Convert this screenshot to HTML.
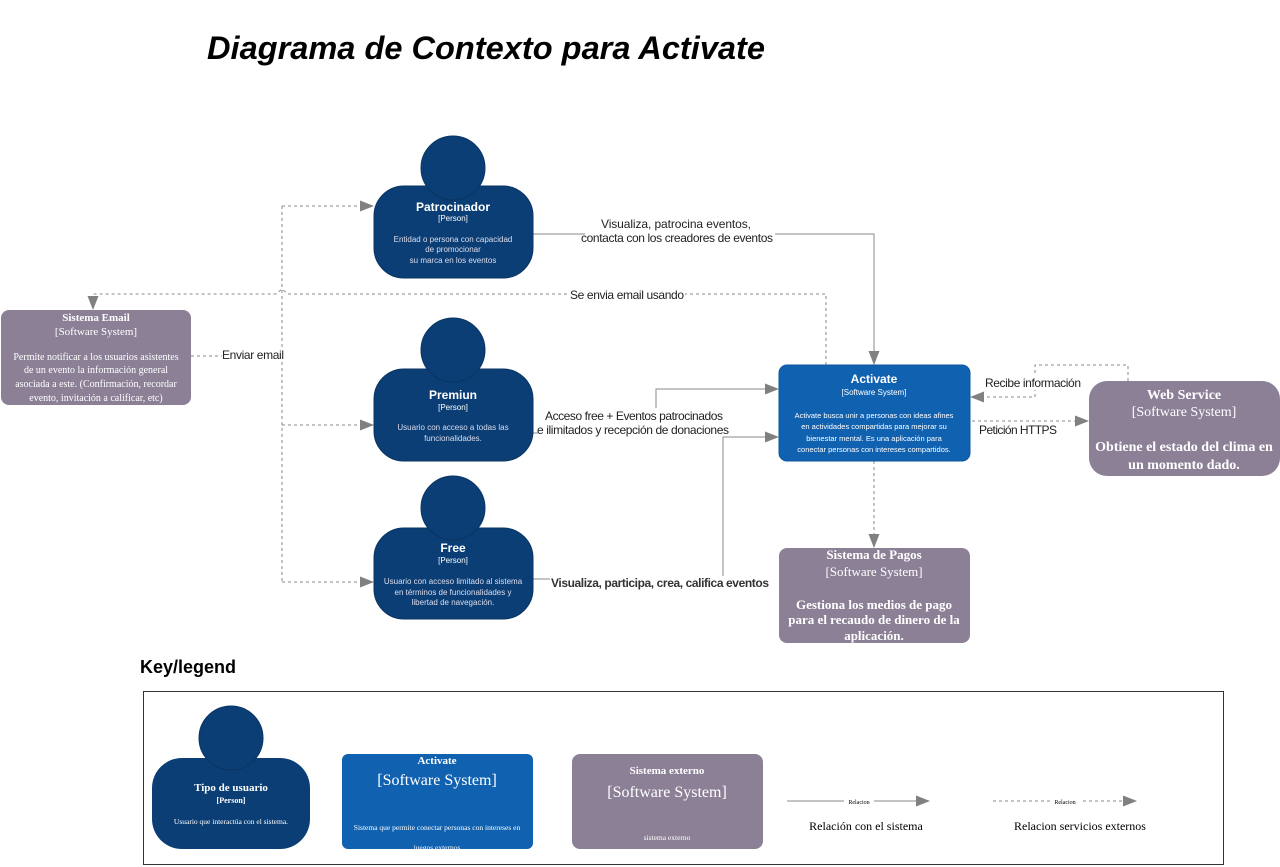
<!DOCTYPE html>
<html><head><meta charset="utf-8"><style>
body{margin:0;background:#fff;width:1280px;height:867px;overflow:hidden}
svg{display:block}
.s{font-family:"Liberation Sans",sans-serif}
.r{font-family:"Liberation Serif",serif}
</style></head><body>
<svg width="1280" height="867" viewBox="0 0 1280 867" xmlns="http://www.w3.org/2000/svg">
<defs>
<marker id="a" markerWidth="14" markerHeight="12" refX="13" refY="6" orient="auto" markerUnits="userSpaceOnUse"><path d="M0,0.5 L14,6 L0,11.5z" fill="#808080"/></marker>
</defs>
<text x="207" y="59" class="s" font-size="32" font-weight="bold" font-style="italic" fill="#000" textLength="558" lengthAdjust="spacingAndGlyphs">Diagrama de Contexto para Activate</text>

<!-- connectors -->
<g fill="none" stroke="#8a8a8a" stroke-width="1">
<path d="M533,234 H874 V364" marker-end="url(#a)"/>
<path d="M533,433 H656 V389 H778" marker-end="url(#a)"/>
<path d="M533,579 H723 V437 H778" marker-end="url(#a)"/>
</g>
<g fill="none" stroke="#8a8a8a" stroke-width="1" stroke-dasharray="3,3">
<path d="M826,365 V294 H288 L282,289 L276,294 H93 V309" marker-end="url(#a)"/>
<path d="M191,356 H282"/>
<path d="M282,206 V582"/>
<path d="M282,206 H373" marker-end="url(#a)"/>
<path d="M282,425 H373" marker-end="url(#a)"/>
<path d="M282,582 H373" marker-end="url(#a)"/>
<path d="M1128,381 V365 H1035 V397 H971" marker-end="url(#a)"/>
<path d="M972,421 H1088" marker-end="url(#a)"/>
<path d="M874,461 V547" marker-end="url(#a)"/>
</g>
<!-- connector labels -->
<g class="s" font-size="12" fill="#222">
<rect x="585" y="216" width="190" height="28" fill="#fff"/>
<text x="676" y="228" text-anchor="middle" textLength="150">Visualiza, patrocina eventos,</text>
<text x="677" y="242" text-anchor="middle" textLength="192">contacta con los creadores de eventos</text>
<rect x="570" y="288" width="115" height="14" fill="#fff"/>
<text x="627" y="299" text-anchor="middle" textLength="114">Se envia email usando</text>
<rect x="222" y="348" width="62" height="14" fill="#fff"/>
<text x="222" y="359" textLength="62">Enviar email</text>
<rect x="538" y="408" width="192" height="28" fill="#fff"/>
<text x="634" y="420" text-anchor="middle" textLength="178">Acceso free + Eventos patrocinados</text>
<text x="633" y="434" text-anchor="middle" textLength="192">e ilimitados y recepción de donaciones</text>
<rect x="550" y="576" width="220" height="14" fill="#fff"/>
<text x="660" y="587" text-anchor="middle" font-weight="bold" fill="#333" textLength="218">Visualiza, participa, crea, califica eventos</text>
<rect x="984" y="376" width="98" height="14" fill="#fff"/>
<text x="985" y="387" textLength="96">Recibe información</text>
<text x="979" y="434" textLength="78">Petición HTTPS</text>
</g>

<!-- persons -->
<g fill="#0b3e74" stroke="#0a3463" stroke-width="1">
<rect x="374" y="186" width="159" height="92" rx="30"/><circle cx="453" cy="168" r="32"/>
<rect x="374" y="369" width="159" height="92" rx="30"/><circle cx="453" cy="350" r="32"/>
<rect x="374" y="528" width="159" height="91" rx="30"/><circle cx="453" cy="508" r="32"/>
</g>
<g class="s" fill="#fff" text-anchor="middle">
<text x="453" y="211" font-size="12" font-weight="bold">Patrocinador</text>
<text x="453" y="221" font-size="8">[Person]</text>
<text x="453" y="242" font-size="8" fill="#dde">Entidad o persona con capacidad</text>
<text x="453" y="252" font-size="8" fill="#dde">de promocionar</text>
<text x="453" y="263" font-size="8" fill="#dde">su marca en los eventos</text>
<text x="453" y="399" font-size="12" font-weight="bold">Premiun</text>
<text x="453" y="410" font-size="8">[Person]</text>
<text x="453" y="430" font-size="8" fill="#dde">Usuario con acceso a todas las</text>
<text x="453" y="441" font-size="8" fill="#dde">funcionalidades.</text>
<text x="453" y="552" font-size="12" font-weight="bold">Free</text>
<text x="453" y="563" font-size="8">[Person]</text>
<text x="453" y="584" font-size="8" fill="#dde">Usuario con acceso limitado al sistema</text>
<text x="453" y="595" font-size="8" fill="#dde">en términos de funcionalidades y</text>
<text x="453" y="605" font-size="8" fill="#dde">libertad de navegación.</text>
</g>

<!-- systems -->
<rect x="1" y="310" width="190" height="95" rx="8" fill="#8b8096"/>
<g class="r" fill="#fff" text-anchor="middle">
<text x="96" y="321" font-size="11" font-weight="bold">Sistema Email</text>
<text x="96" y="335" font-size="11">[Software System]</text>
<text x="96" y="360" font-size="10">Permite notificar a los usuarios asistentes</text>
<text x="96" y="373" font-size="10">de un evento la información general</text>
<text x="96" y="387" font-size="10">asociada a este. (Confirmación, recordar</text>
<text x="96" y="401" font-size="10">evento, invitación a calificar, etc)</text>
</g>
<rect x="779" y="365" width="191" height="96" rx="8" fill="#1061b0" stroke="#0e57a0"/>
<g class="s" fill="#fff" text-anchor="middle">
<text x="874" y="383" font-size="12" font-weight="bold">Activate</text>
<text x="874" y="395" font-size="8">[Software System]</text>
<text x="874" y="418" font-size="7.5">Activate busca unir a personas con ideas afines</text>
<text x="874" y="429" font-size="7.5">en actividades compartidas para mejorar su</text>
<text x="874" y="441" font-size="7.5">bienestar mental. Es una aplicación para</text>
<text x="874" y="452" font-size="7.5">conectar personas con intereses compartidos.</text>
</g>
<rect x="1089" y="381" width="191" height="95" rx="18" fill="#8b8096"/>
<g class="r" fill="#fff" text-anchor="middle">
<text x="1184" y="399" font-size="14" font-weight="bold">Web Service</text>
<text x="1184" y="416" font-size="14">[Software System]</text>
<text x="1184" y="451" font-size="14" font-weight="bold">Obtiene el estado del clima en</text>
<text x="1184" y="469" font-size="14" font-weight="bold">un momento dado.</text>
</g>
<rect x="779" y="548" width="191" height="95" rx="8" fill="#8b8096"/>
<g class="r" fill="#fff" text-anchor="middle">
<text x="874" y="559" font-size="13" font-weight="bold">Sistema de Pagos</text>
<text x="874" y="576" font-size="13">[Software System]</text>
<text x="874" y="609" font-size="13" font-weight="bold">Gestiona los medios de pago</text>
<text x="874" y="624" font-size="13" font-weight="bold">para el recaudo de dinero de la</text>
<text x="874" y="640" font-size="13" font-weight="bold">aplicación.</text>
</g>

<!-- legend -->
<text x="140" y="673" class="s" font-size="18" font-weight="bold" fill="#000">Key/legend</text>
<rect x="143.5" y="691.5" width="1080" height="173" fill="none" stroke="#333" stroke-width="1"/>
<rect x="152" y="758" width="158" height="91" rx="30" fill="#0b3e74"/>
<circle cx="231" cy="738" r="32" fill="#0b3e74" stroke="#0a3463"/>
<g class="r" fill="#fff" text-anchor="middle">
<text x="231" y="791" font-size="11" font-weight="bold">Tipo de usuario</text>
<text x="231" y="803" font-size="8" font-weight="bold">[Person]</text>
<text x="231" y="824" font-size="7.5">Usuario que interactúa con el sistema.</text>
</g>
<rect x="342" y="754" width="191" height="95" rx="6" fill="#1061b0"/>
<g class="r" fill="#fff" text-anchor="middle">
<text x="437" y="764" font-size="11" font-weight="bold">Activate</text>
<text x="437" y="785" font-size="16">[Software System]</text>
<text x="437" y="830" font-size="7.5">Sistema que permite conectar personas con intereses en</text>
<text x="437" y="850" font-size="7.5">juegos externos</text>
</g>
<rect x="572" y="754" width="191" height="95" rx="8" fill="#8b8096"/>
<g class="r" fill="#fff" text-anchor="middle">
<text x="667" y="774" font-size="11" font-weight="bold">Sistema externo</text>
<text x="667" y="797" font-size="16">[Software System]</text>
<text x="667" y="840" font-size="7.5">sistema externo</text>
</g>
<path d="M787,801 H929" stroke="#8a8a8a" fill="none" marker-end="url(#a)"/>
<path d="M993,801 H1136" stroke="#8a8a8a" fill="none" stroke-dasharray="3,3" marker-end="url(#a)"/>
<g class="r" text-anchor="middle">
<rect x="844" y="797" width="30" height="8" fill="#fff"/><text x="859" y="804" font-size="6">Relacion</text>
<rect x="1050" y="797" width="30" height="8" fill="#fff"/><text x="1065" y="804" font-size="6">Relacion</text>
<text x="866" y="830" font-size="12">Relación con el sistema</text>
<text x="1080" y="830" font-size="12">Relacion servicios externos</text>
</g>
</svg>
</body></html>
